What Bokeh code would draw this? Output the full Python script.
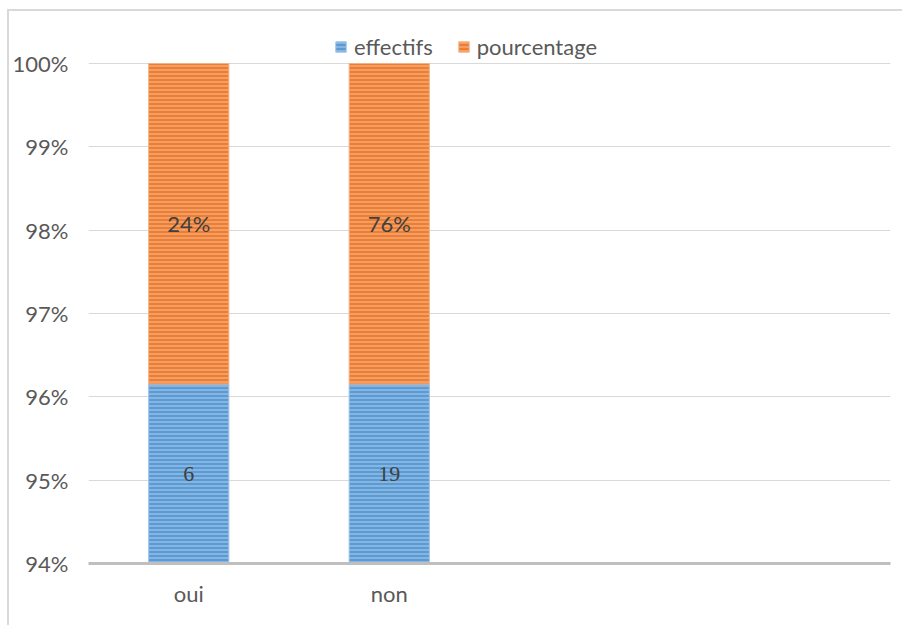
from bokeh.plotting import figure
from bokeh.models import (ColumnDataSource, FactorRange, Range1d, Legend, LegendItem,
                          NumeralTickFormatter, FixedTicker, LabelSet)
from bokeh.core.properties import value
from bokeh.embed import file_html
from bokeh.resources import INLINE

categories = ["oui", "non", " ", "  "]
bar_categories = ["oui", "non"]
effectifs = [6, 19]
pourcentage = [0.24, 0.76]
effectifs_labels = ["6", "19"]
pourcentage_labels = ["24%", "76%"]
y_ticks = [0.94, 0.95, 0.96, 0.97, 0.98, 0.99, 1.00]

Y_MIN, Y_MAX = 0.94, 1.0
RANGE_TOP = 1.0036  # headroom for the legend inside the frame

eff_share = [e / (e + q) for e, q in zip(effectifs, pourcentage)]
src = ColumnDataSource(dict(
    x=bar_categories,
    zero=[0.0] * len(bar_categories),
    eff_top=eff_share,
    one=[1.0] * len(bar_categories),
    eff_mid=[(Y_MIN + s) / 2 for s in eff_share],
    pct_mid=[(s + Y_MAX) / 2 for s in eff_share],
    eff_lab=effectifs_labels,
    pct_lab=pourcentage_labels,
))

p = figure(x_range=FactorRange(*categories), y_range=Range1d(Y_MIN, RANGE_TOP),
           frame_width=802, frame_height=530,
           min_border_left=79, min_border_right=12, min_border_top=22, min_border_bottom=62,
           output_backend="svg", toolbar_location=None)
p.styles = {"margin-left": "7px", "margin-top": "9px",
            "border-left": "2px solid #d9d9d9", "border-top": "2px solid #d9d9d9"}
p.outline_line_color = None

TXT = "#595959"
FONT = "Lato"
FS = "22px"

blue = p.vbar(x="x", bottom="zero", top="eff_top", width=0.4, source=src,
              fill_color="#5b9bd5", line_color="#9dc3e6", line_width=1,
              hatch_pattern="horizontal_line", hatch_color="white", hatch_alpha=0.35,
              hatch_scale=4, hatch_weight=1.5)
orange = p.vbar(x="x", bottom="eff_top", top="one", width=0.4, source=src,
                fill_color="#ed7d31", line_color="#f4b183", line_width=1,
                hatch_pattern="horizontal_line", hatch_color="white", hatch_alpha=0.35,
                hatch_scale=4, hatch_weight=1.5)

p.add_layout(LabelSet(x="x", y="eff_mid", text="eff_lab", source=src,
                      text_align="center", text_baseline="middle",
                      text_font=value("Liberation Serif"), text_font_size=value("22px"),
                      text_color="#404040"))
p.add_layout(LabelSet(x="x", y="pct_mid", text="pct_lab", source=src,
                      text_align="center", text_baseline="middle",
                      text_font=value(FONT), text_font_size=value(FS), text_color="#404040"))

p.xgrid.grid_line_color = None
p.ygrid.grid_line_color = "#d9d9d9"
p.ygrid.grid_line_width = 1

p.yaxis.ticker = FixedTicker(ticks=y_ticks)
p.yaxis.formatter = NumeralTickFormatter(format="0%")
p.yaxis.axis_line_color = None
p.yaxis.major_tick_line_color = None
p.yaxis.minor_tick_line_color = None
p.yaxis.major_label_text_font = FONT
p.yaxis.major_label_text_font_size = FS
p.yaxis.major_label_text_color = TXT
p.yaxis.major_label_standoff = 14

p.xaxis.axis_line_color = "#bfbfbf"
p.xaxis.axis_line_width = 3
p.xaxis.major_tick_line_color = None
p.xaxis.minor_tick_line_color = None
p.xaxis.major_label_text_font = FONT
p.xaxis.major_label_text_font_size = FS
p.xaxis.major_label_text_color = TXT
p.xaxis.major_label_standoff = 10

legend = Legend(items=[LegendItem(label="effectifs", renderers=[blue]),
                       LegendItem(label="pourcentage", renderers=[orange])],
                location=(246, 503), orientation="horizontal",
                border_line_color=None, background_fill_alpha=0,
                label_text_font=FONT, label_text_font_size=FS, label_text_color=TXT,
                glyph_width=13, glyph_height=13, spacing=24, label_standoff=7,
                padding=0, margin=0)
p.add_layout(legend, "center")

open("out.html", "w").write(file_html(p, INLINE))
